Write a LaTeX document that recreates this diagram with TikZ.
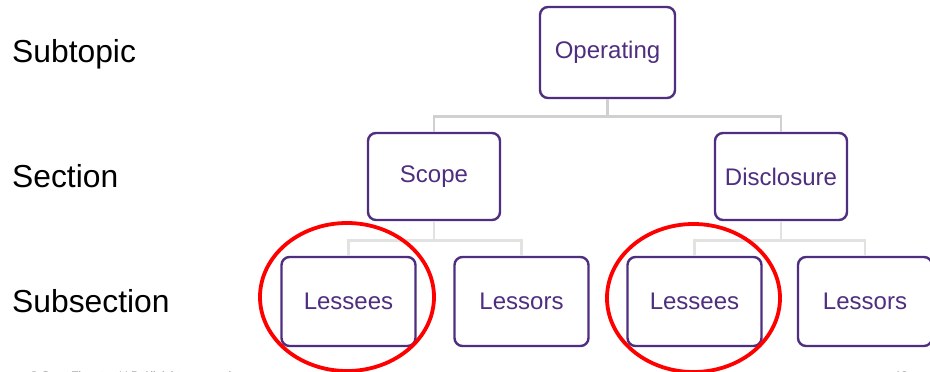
\documentclass[tikz,border=0pt]{standalone}
\usepackage{fontspec}
\setmainfont{Liberation Sans}
\definecolor{gtpurple}{HTML}{4F2D7F}
\definecolor{linkgrey}{HTML}{D0D0D0}
\definecolor{linkgreylight}{HTML}{E2E2E2}
\definecolor{footgrey}{HTML}{8C8C8C}
\begin{document}
\begin{tikzpicture}[x=1pt,y=-1pt,
  box/.style={draw=gtpurple, line width=2.4pt, rounded corners=8pt, fill=white,
    text=gtpurple, font=\fontsize{24}{28}\selectfont, inner sep=0pt},
  topbox/.style={box, minimum width=135pt, minimum height=91pt},
  midbox/.style={box, minimum width=132pt, minimum height=87pt},
  lowbox/.style={box, minimum width=134pt, minimum height=89pt},
  level/.style={anchor=base west, font=\fontsize{31.8}{36}\selectfont, text=black, inner sep=0pt},
  link/.style={draw=linkgrey, line width=2.6pt},
  linklight/.style={draw=linkgreylight, line width=2.6pt},
  ring/.style={draw=red, line width=3.8pt},
  foot/.style={anchor=base west, font=\fontsize{11}{13}\selectfont, text=footgrey, inner sep=0pt}]
\useasboundingbox (0,0) rectangle (930,372);
\clip (0,0) rectangle (930,372);

% row headings
\node[level] (lblsubtopic) at (12,62) {Subtopic};
\node[level] (lblsection) at (12,187) {Section};
\node[level] (lblsubsection) at (12,312) {Subsection};

% hierarchy boxes
\node[topbox] (op) at (607.5,52.5) {Operating};
\node[midbox] (scope) at (434,176.5) {Scope};
\node[midbox] (disc) at (781,176.5) {Disclosure};
\node[lowbox] (lee1) at (348.5,301.5) {Lessees};
\node[lowbox] (lor1) at (521.5,301.5) {Lessors};
\node[lowbox] (lee2) at (694.5,301.5) {Lessees};
\node[lowbox] (lor2) at (865,301.5) {Lessors};

% tree connectors
\draw[link] (op.south) -- ++(0,17) -| (scope.north);
\draw[link] (op.south) -- ++(0,17) -| (disc.north);
\draw[linklight] (scope.south) -- ++(0,19) -| (lee1.north);
\draw[linklight] (scope.south) -- ++(0,19) -| (lor1.north);
\draw[linklight] (disc.south) -- ++(0,19) -| (lee2.north);
\draw[linklight] (disc.south) -- ++(0,19) -| (lor2.north);

% highlight rings
\draw[ring] (347,297) ellipse [x radius=87pt, y radius=74pt];
\draw[ring] (693.5,298) ellipse [x radius=86.5pt, y radius=74pt];

% footer, mostly below the page edge
\node[foot] (copy) at (30,379) {\textcopyright{} Grant Thornton LLP. All rights reserved.};
\node[foot] (pageno) at (895,379) {12};
\end{tikzpicture}
\end{document}
